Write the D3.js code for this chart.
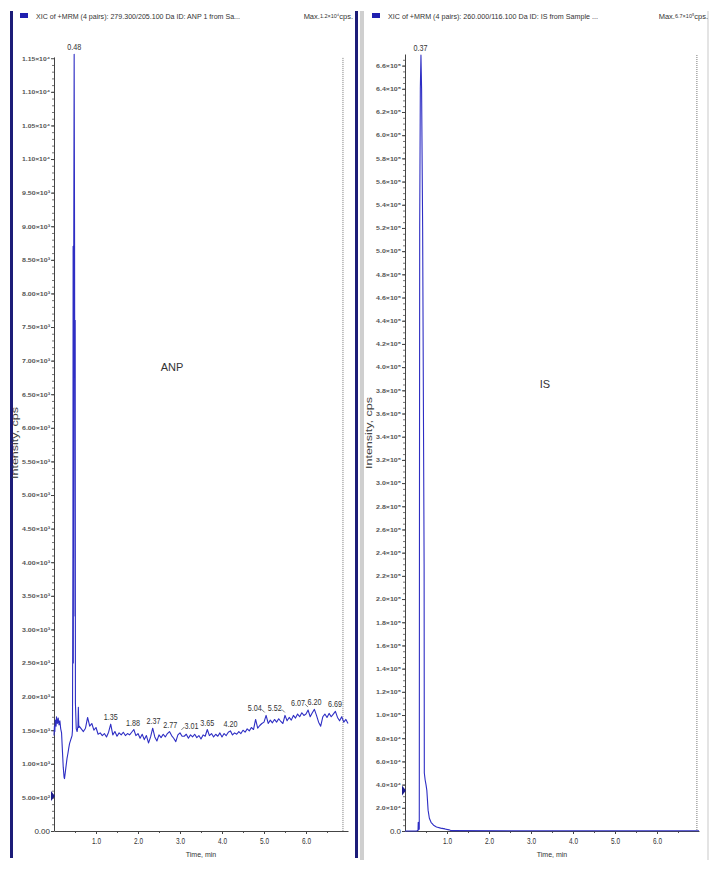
<!DOCTYPE html>
<html>
<head>
<meta charset="utf-8">
<script src="https://cdn.jsdelivr.net/npm/d3@7"></script>
<style>
    body { margin: 0; background: #fff; }
    svg { display: block; }
    text { font-family: Arial, "Liberation Sans", sans-serif; }
</style>
</head>
<body>
<div id="chart"></div>
<script>
// ANP trace, start of the run (time in min, intensity in cps)
const anpEarlyTimes = [0.00, 0.01, 0.02, 0.03, 0.05, 0.06, 0.08, 0.10, 0.12, 0.14, 0.16, 0.18, 0.20, 0.22, 0.24, 0.25,
    0.27, 0.29, 0.31, 0.33, 0.35, 0.37, 0.39, 0.41, 0.43, 0.44, 0.45, 0.455, 0.46, 0.47, 0.48, 0.49, 0.50, 0.505,
    0.51, 0.53, 0.55, 0.57, 0.58, 0.59];
const anpEarlyValues = [1420, 1560, 1480, 1650, 1560, 1700, 1600, 1680, 1580, 1640, 1520, 1460, 1200, 950, 800, 780,
    880, 980, 1080, 1150, 1230, 1300, 1340, 1380, 1420, 1500, 4200, 8700, 2500, 8700, 11560, 8700, 3200, 7600,
    1900, 1520, 1480, 1560, 1840, 1540];

// ANP baseline, one reading every 0.05 min from 0.60 min
const anpSampleStart = 0.60;
const anpSampleStep = 0.05;
const anpBaseValues = [
    1560, 1520, 1480, 1530, 1690, 1560, 1600, 1500, 1540, 1440,
    1460, 1420, 1450, 1400, 1470, 1590, 1430, 1480, 1410, 1460,
    1430, 1470, 1420, 1450, 1430, 1470, 1510, 1420, 1450, 1380,
    1440, 1360, 1420, 1310, 1400, 1530, 1400, 1340, 1430, 1390,
    1440, 1400, 1450, 1480, 1420, 1380, 1330, 1430, 1460, 1410,
    1410, 1440, 1380, 1430, 1400, 1440, 1390, 1420, 1370, 1430,
    1410, 1510, 1420, 1450, 1400, 1440, 1410, 1460, 1400, 1450,
    1420, 1470, 1490, 1430, 1460, 1440, 1480, 1450, 1500, 1470,
    1520, 1490, 1540, 1510, 1660, 1530, 1570, 1600, 1620, 1720,
    1600, 1650, 1610, 1660, 1620, 1670, 1630, 1600, 1720, 1640,
    1690, 1650, 1720, 1680, 1740, 1700, 1760, 1720, 1740, 1800,
    1700, 1760, 1810, 1720, 1620, 1560, 1700, 1740, 1690, 1750,
    1700, 1740, 1780, 1690, 1640, 1700, 1620, 1660, 1600
];

const anpPeakTimes = [0.48, 1.35, 1.88, 2.37, 2.77, 3.01, 3.65, 4.20, 5.04, 5.52, 6.07, 6.20, 6.69];
const anpTickLabels = ["0.00", "5.00×10²", "1.00×10³", "1.50×10³", "2.00×10³", "2.50×10³", "3.00×10³", "3.50×10³",
    "4.00×10³", "4.50×10³", "5.00×10³", "5.50×10³", "6.00×10³", "6.50×10³", "7.00×10³", "7.50×10³", "8.00×10³",
    "8.50×10³", "9.00×10³", "9.50×10³", "1.10×10⁴", "1.05×10⁴", "1.10×10⁴", "1.15×10⁴"];

// IS trace
const isTimes = [0.00, 0.28, 0.31, 0.315, 0.32, 0.335, 0.34, 0.345, 0.35, 0.365, 0.38, 0.395, 0.42, 0.455, 0.46,
    0.48, 0.50, 0.52, 0.55, 0.58, 0.62, 0.68, 0.75, 0.85, 0.95, 1.05, 1.10, 7.00];
const isValues = [0, 0, 600, 7500, 900, 1500, 2000, 300000, 520000, 640000, 669000, 640000, 520000, 230000, 50000,
    44000, 40000, 35000, 18000, 11000, 7500, 5000, 3500, 2500, 1800, 1000, 300, 200];
const isPeakTimes = [0.37];
const isTickLabels = ["0.0", "2.0×10⁴", "4.0×10⁴", "6.0×10⁴", "8.0×10⁴", "1.0×10⁵", "1.2×10⁵", "1.4×10⁵", "1.6×10⁵",
    "1.8×10⁵", "2.0×10⁵", "2.2×10⁵", "2.4×10⁵", "2.6×10⁵", "2.8×10⁵", "3.0×10⁵", "3.2×10⁵", "3.4×10⁵", "3.6×10⁵",
    "3.8×10⁵", "4.0×10⁵", "4.2×10⁵", "4.4×10⁵", "4.6×10⁵", "4.8×10⁵", "5.0×10⁵", "5.2×10⁵", "5.4×10⁵", "5.6×10⁵",
    "5.8×10⁵", "6.0×10⁵", "6.2×10⁵", "6.4×10⁵", "6.6×10⁵"];

const timeTicks = [1, 2, 3, 4, 5, 6];
const timeTickLabels = ["1.0", "2.0", "3.0", "4.0", "5.0", "6.0"];

let anpTrace = anpEarlyTimes.map((t, i) => [t, anpEarlyValues[i]])
    .concat(anpBaseValues.map((v, i) => [+(anpSampleStart + i * anpSampleStep).toFixed(2), v]));
let isTrace = isTimes.map((t, i) => [t, isValues[i]]);

const W = 716, H = 880;
const svg = d3.select("#chart").append("svg").attr("width", W).attr("height", H);

const panels = [
    {
        left: 54, right: 348, yMax: 11520, yTop: 56.9, majorStep: 500, minorStep: 100,
        trace: anpTrace, peaks: anpPeakTimes, tickLabels: anpTickLabels, labelWidth: 28,
        endLine: 6.88, marker: 520, name: "ANP", nameX: 172, nameY: 371, axisTitleX: 18, axisTitleY: 443,
        title: "XIC of +MRM (4 pairs): 279.300/205.100 Da ID: ANP 1 from Sa...", titleX: 36, titleW: 204,
        maxVal: "1.2×10⁴", maxX: 353, boxX: 20
    },
    {
        left: 405, right: 699, yMax: 670000, yTop: 54, majorStep: 20000, minorStep: 5000,
        trace: isTrace, peaks: isPeakTimes, tickLabels: isTickLabels, labelWidth: 25,
        endLine: 6.95, marker: 35000, name: "IS", nameX: 545, nameY: 388, axisTitleX: 372, axisTitleY: 433,
        title: "XIC of +MRM (4 pairs): 260.000/116.100 Da ID: IS from Sample ...", titleX: 388, titleW: 210,
        maxVal: "6.7×10⁵", maxX: 708, boxX: 372
    }
];

// labels that are pushed aside with a small leader
const leaderSide = { "3.01": "left", "5.04": "right", "5.52": "right", "6.07": "right" };

// frame of the two panes
svg.append("rect").attr("x", 10).attr("y", 11).attr("width", 3).attr("height", 847).attr("fill", "#1c1c78");
svg.append("rect").attr("x", 355).attr("y", 11).attr("width", 3).attr("height", 847).attr("fill", "#1c1c78");
svg.append("rect").attr("x", 360).attr("y", 11).attr("width", 4).attr("height", 849).attr("fill", "#cfcfcf");
svg.append("rect").attr("x", 707).attr("y", 11).attr("width", 2).attr("height", 849).attr("fill", "#e4e4e4");

panels.forEach((p) => {
    let x = d3.scaleLinear().domain([0, 7]).range([p.left, p.right]),
        y = d3.scaleLinear().domain([0, p.yMax]).range([831, p.yTop]),
        g = svg.append("g");

    // header
    g.append("rect").attr("x", p.boxX).attr("y", 13).attr("width", 8).attr("height", 5).attr("fill", "#1f1fb0");
    g.append("text").attr("x", p.titleX).attr("y", 19).attr("font-size", 7.5).attr("fill", "#333")
        .attr("textLength", p.titleW).attr("lengthAdjust", "spacingAndGlyphs").text(p.title);
    let mx = g.append("text").attr("x", p.maxX).attr("y", 19).attr("text-anchor", "end")
        .attr("font-size", 7.5).attr("fill", "#333");
    mx.append("tspan").text("Max.");
    mx.append("tspan").attr("font-size", 5.5).attr("dy", -1).text(p.maxVal);
    mx.append("tspan").attr("dy", 1).text("cps.");

    // y axis, minor then major ticks
    g.append("g").attr("transform", "translate(" + p.left + ",0)")
        .call(d3.axisLeft(y).tickValues(d3.range(0, p.yMax - p.minorStep / 2, p.minorStep))
            .tickSize(2).tickFormat(""))
        .call((a) => a.select(".domain").remove())
        .selectAll("line").attr("stroke", "#777");

    let yAxis = g.append("g").attr("transform", "translate(" + p.left + ",0)")
        .call(d3.axisLeft(y).tickValues(p.tickLabels.map((d, i) => i * p.majorStep))
            .tickFormat((d, i) => p.tickLabels[i]).tickSize(3).tickSizeOuter(0).tickPadding(1));
    yAxis.select(".domain").attr("stroke", "#444");
    yAxis.selectAll("line").attr("stroke", "#444");
    yAxis.selectAll("text")
        .attr("font-family", "Arial, sans-serif")
        .attr("font-size", (d, i) => i === 0 ? 8 : 5.6)
        .attr("font-weight", (d, i) => i === 0 ? "normal" : "bold")
        .attr("fill", (d, i) => i === 0 ? "#333" : "#555")
        .attr("textLength", (d, i) => i === 0 ? null : p.labelWidth)
        .attr("lengthAdjust", "spacingAndGlyphs");

    // x axis
    g.append("g").attr("transform", "translate(0,831)")
        .call(d3.axisBottom(x).tickValues([0.5, 1.5, 2.5, 3.5, 4.5, 5.5, 6.5]).tickSize(2).tickFormat(""))
        .call((a) => a.select(".domain").remove())
        .selectAll("line").attr("stroke", "#555");
    let xAxis = g.append("g").attr("transform", "translate(0,831)")
        .call(d3.axisBottom(x).tickValues(timeTicks).tickFormat((d, i) => timeTickLabels[i])
            .tickSize(3).tickSizeOuter(0).tickPadding(4));
    xAxis.select(".domain").attr("stroke", "#444");
    xAxis.selectAll("line").attr("stroke", "#444");
    xAxis.selectAll("text").attr("font-family", "Arial, sans-serif").attr("font-size", 8.5).attr("fill", "#333")
        .attr("textLength", 9).attr("lengthAdjust", "spacingAndGlyphs");

    g.append("text").attr("x", (p.left + p.right) / 2).attr("y", 857).attr("text-anchor", "middle")
        .attr("font-size", 7).attr("fill", "#333").text("Time, min");
    g.append("text").attr("transform", "translate(" + p.axisTitleX + "," + p.axisTitleY + ") rotate(-90)")
        .attr("text-anchor", "middle").attr("font-size", 9.5).attr("fill", "#444")
        .attr("textLength", 72).attr("lengthAdjust", "spacingAndGlyphs").text("Intensity, cps");

    // end-of-window line
    g.append("line").attr("x1", x(p.endLine)).attr("x2", x(p.endLine))
        .attr("y1", y(p.yMax) + 1).attr("y2", 831)
        .attr("stroke", "#555").attr("stroke-width", 0.8).attr("stroke-dasharray", "1,1");

    // trace
    g.append("path").datum(p.trace)
        .attr("fill", "none").attr("stroke", "#2e2ec4").attr("stroke-width", 1.1)
        .attr("stroke-linejoin", "round")
        .attr("d", d3.line().x((d) => x(d[0])).y((d) => y(d[1])));

    // small level marker on the y axis
    let my = y(p.marker);
    g.append("path").attr("d", "M" + (p.left - 3) + "," + (my - 5) + "L" + (p.left + 1) + "," + my +
        "L" + (p.left - 3) + "," + (my + 5) + "Z").attr("fill", "#1c1c8a");

    // peak labels
    p.peaks.forEach((t) => {
        let near = p.trace.filter((d) => Math.abs(d[0] - t) <= 0.03),
            top = y(d3.max(near, (d) => d[1])) - 4,
            label = t.toFixed(2),
            side = leaderSide[label],
            px = x(t),
            anchor = "middle";

        if (side === "right") {
            g.append("line").attr("x1", px - 4).attr("y1", top - 2).attr("x2", px - 1).attr("y2", top + 1)
                .attr("stroke", "#444").attr("stroke-width", 0.7);
            px -= 4;
            anchor = "end";
        } else if (side === "left") {
            g.append("line").attr("x1", px + 1).attr("y1", top + 1).attr("x2", px + 4).attr("y2", top - 2)
                .attr("stroke", "#444").attr("stroke-width", 0.7);
            px += 4;
            anchor = "start";
        }

        g.append("text").attr("x", px).attr("y", top).attr("text-anchor", anchor)
            .attr("font-size", 8.5).attr("fill", "#333")
            .attr("textLength", 14).attr("lengthAdjust", "spacingAndGlyphs").text(label);
    });

    g.append("text").attr("x", p.nameX).attr("y", p.nameY).attr("text-anchor", "middle")
        .attr("font-size", 11).attr("fill", "#333").text(p.name);
});
</script>
</body>
</html>
